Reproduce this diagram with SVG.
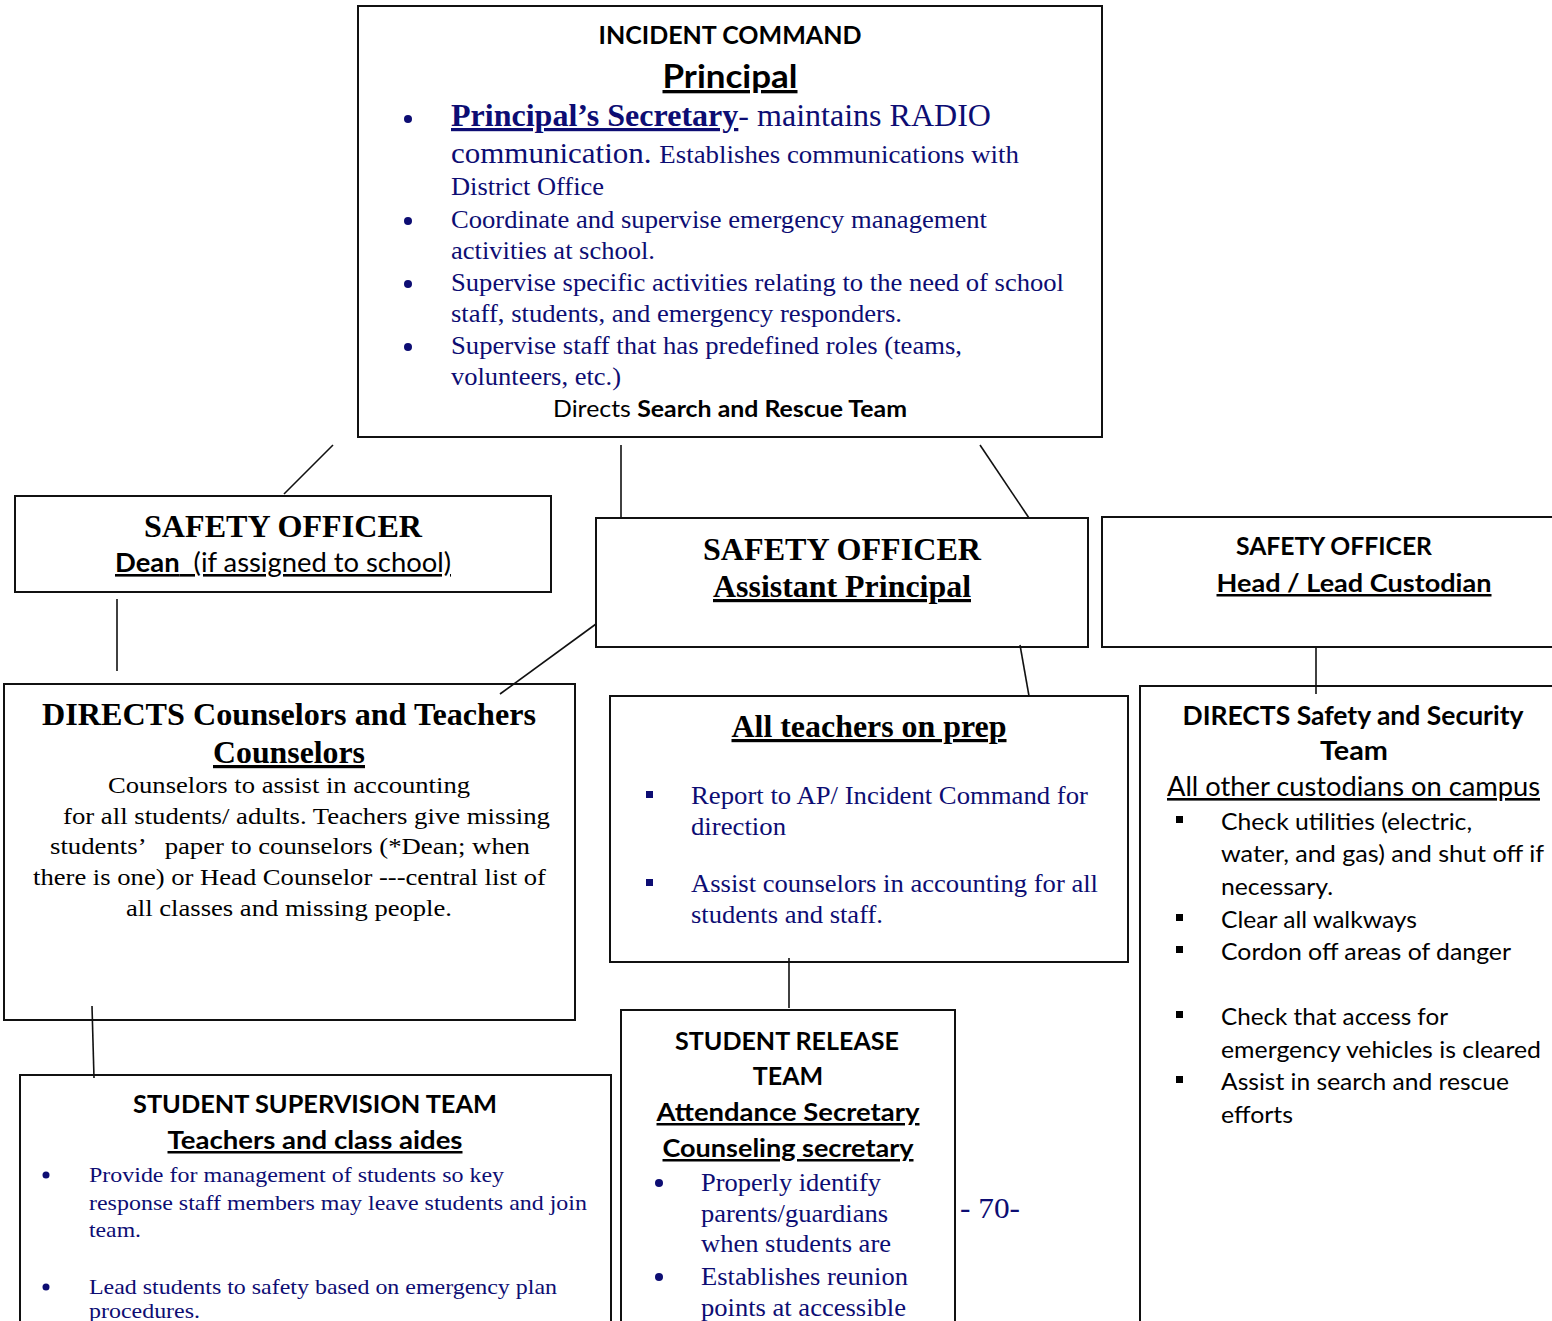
<svg xmlns="http://www.w3.org/2000/svg" width="1552" height="1321" viewBox="0 0 1552 1321">
<style>
.box{fill:#fff;stroke:#111;stroke-width:2}
.con line{stroke:#111;stroke-width:1.6}
.ss{font-family:Lato,"Liberation Sans",sans-serif}
.sf{font-family:"Liberation Serif","Times New Roman",serif}
.b{font-weight:bold}
.u{text-decoration:underline}
.c{text-anchor:middle}
.k{fill:#000}
.n{fill:#0d0d73}
text{white-space:pre}
</style>
<rect width="1552" height="1321" fill="#fff"/>
<g id="incident-command">
<rect class="box" x="358" y="6" width="744" height="431"/>
<text class="ss b c k" x="730" y="44" font-size="25">INCIDENT COMMAND</text>
<text class="ss b c u k" x="730" y="88" font-size="33" textLength="135" lengthAdjust="spacingAndGlyphs">Principal</text>
<g class="sf n">
<circle cx="408" cy="119" r="4" fill="#0d0d73"/>
<text x="451" y="126" font-size="32" textLength="540" lengthAdjust="spacingAndGlyphs"><tspan class="b u">Principal’s Secretary</tspan>- maintains RADIO</text>
<text x="451" y="163" font-size="30" textLength="568" lengthAdjust="spacingAndGlyphs">communication. <tspan font-size="26">Establishes communications with</tspan></text>
<text x="451" y="195" font-size="26" textLength="153" lengthAdjust="spacingAndGlyphs">District Office</text>
<circle cx="408" cy="221" r="4" fill="#0d0d73"/>
<text x="451" y="228" font-size="26" textLength="536" lengthAdjust="spacingAndGlyphs">Coordinate and supervise emergency management</text>
<text x="451" y="259" font-size="26" textLength="204" lengthAdjust="spacingAndGlyphs">activities at school.</text>
<circle cx="408" cy="284" r="4" fill="#0d0d73"/>
<text x="451" y="291" font-size="26" textLength="613" lengthAdjust="spacingAndGlyphs">Supervise specific activities relating to the need of school</text>
<text x="451" y="322" font-size="26" textLength="451" lengthAdjust="spacingAndGlyphs">staff, students, and emergency responders.</text>
<circle cx="408" cy="347" r="4" fill="#0d0d73"/>
<text x="451" y="354" font-size="26" textLength="511" lengthAdjust="spacingAndGlyphs">Supervise staff that has predefined roles (teams,</text>
<text x="451" y="385" font-size="26" textLength="170" lengthAdjust="spacingAndGlyphs">volunteers, etc.)</text>
</g>
<text class="ss c k" x="730" y="417" font-size="23" textLength="354" lengthAdjust="spacingAndGlyphs">Directs <tspan class="b">Search and Rescue Team</tspan></text>
</g>
<g id="safety-dean">
<rect class="box" x="15" y="496" width="536" height="96"/>
<text class="sf b c k" x="283" y="537" font-size="32" textLength="278" lengthAdjust="spacingAndGlyphs">SAFETY OFFICER</text>
<text class="ss c u k" x="283" y="572" font-size="26" textLength="336" lengthAdjust="spacingAndGlyphs"><tspan class="b">Dean</tspan>  (if assigned to school)</text>
</g>
<g id="safety-ap">
<rect class="box" x="596" y="518" width="492" height="129"/>
<text class="sf b c k" x="842" y="560" font-size="32" textLength="278" lengthAdjust="spacingAndGlyphs">SAFETY OFFICER</text>
<text class="sf b c u k" x="842" y="597" font-size="32" textLength="258" lengthAdjust="spacingAndGlyphs">Assistant Principal</text>
</g>
<g id="safety-custodian">
<rect class="box" x="1102" y="517" width="460" height="130"/>
<text class="ss b c k" x="1334" y="555" font-size="25" textLength="196" lengthAdjust="spacingAndGlyphs">SAFETY OFFICER</text>
<text class="ss b c u k" x="1354" y="592" font-size="25" textLength="275" lengthAdjust="spacingAndGlyphs">Head / Lead Custodian</text>
</g>
<g id="counselors">
<rect class="box" x="4" y="684" width="571" height="336"/>
<text class="sf b c k" x="289" y="725" font-size="32" textLength="494" lengthAdjust="spacingAndGlyphs">DIRECTS Counselors and Teachers</text>
<text class="sf b c u k" x="289" y="763" font-size="32" textLength="152" lengthAdjust="spacingAndGlyphs">Counselors</text>
<g class="sf k" font-size="24">
<text x="108" y="793" textLength="362" lengthAdjust="spacingAndGlyphs">Counselors to assist in accounting</text>
<text x="63" y="824" textLength="487" lengthAdjust="spacingAndGlyphs">for all students/ adults. Teachers give missing</text>
<text x="50" y="854" textLength="480" lengthAdjust="spacingAndGlyphs">students’   paper to counselors (*Dean; when</text>
<text x="33" y="885" textLength="513" lengthAdjust="spacingAndGlyphs">there is one) or Head Counselor ---central list of</text>
<text x="126" y="916" textLength="326" lengthAdjust="spacingAndGlyphs">all classes and missing people.</text>
</g>
</g>
<g id="teachers-prep">
<rect class="box" x="610" y="696" width="518" height="266"/>
<text class="sf b c u k" x="869" y="737" font-size="32" textLength="275" lengthAdjust="spacingAndGlyphs">All teachers on prep</text>
<g class="sf n" font-size="25">
<rect x="646" y="791" width="7" height="7" fill="#0d0d73"/>
<text x="691" y="804" textLength="397" lengthAdjust="spacingAndGlyphs">Report to AP/ Incident Command for</text>
<text x="691" y="835" textLength="95" lengthAdjust="spacingAndGlyphs">direction</text>
<rect x="646" y="879" width="7" height="7" fill="#0d0d73"/>
<text x="691" y="892" textLength="407" lengthAdjust="spacingAndGlyphs">Assist counselors in accounting for all</text>
<text x="691" y="923" textLength="192" lengthAdjust="spacingAndGlyphs">students and staff.</text>
</g>
</g>
<g id="safety-security">
<rect class="box" x="1140" y="686" width="430" height="660"/>
<text class="ss b c k" x="1353" y="725" font-size="26" textLength="341" lengthAdjust="spacingAndGlyphs">DIRECTS Safety and Security</text>
<text class="ss b c k" x="1354" y="760" font-size="26" textLength="68" lengthAdjust="spacingAndGlyphs">Team</text>
<text class="ss u k" x="1167" y="796" font-size="26" textLength="373" lengthAdjust="spacingAndGlyphs">All other custodians on campus</text>
<g class="ss k" font-size="24">
<rect x="1176" y="816" width="7" height="7"/>
<text x="1221" y="830" textLength="251" lengthAdjust="spacingAndGlyphs">Check utilities (electric,</text>
<text x="1221" y="862" textLength="323" lengthAdjust="spacingAndGlyphs">water, and gas) and shut off if</text>
<text x="1221" y="895" textLength="112" lengthAdjust="spacingAndGlyphs">necessary.</text>
<rect x="1176" y="914" width="7" height="7"/>
<text x="1221" y="928" textLength="196" lengthAdjust="spacingAndGlyphs">Clear all walkways</text>
<rect x="1176" y="946" width="7" height="7"/>
<text x="1221" y="960" textLength="290" lengthAdjust="spacingAndGlyphs">Cordon off areas of danger</text>
<rect x="1176" y="1011" width="7" height="7"/>
<text x="1221" y="1025" textLength="227" lengthAdjust="spacingAndGlyphs">Check that access for</text>
<text x="1221" y="1058" textLength="320" lengthAdjust="spacingAndGlyphs">emergency vehicles is cleared</text>
<rect x="1176" y="1076" width="7" height="7"/>
<text x="1221" y="1090" textLength="288" lengthAdjust="spacingAndGlyphs">Assist in search and rescue</text>
<text x="1221" y="1123" textLength="72" lengthAdjust="spacingAndGlyphs">efforts</text>
</g>
</g>
<g id="student-supervision">
<rect class="box" x="20" y="1075" width="591" height="280"/>
<text class="ss b c k" x="315" y="1113" font-size="25" textLength="364" lengthAdjust="spacingAndGlyphs">STUDENT SUPERVISION TEAM</text>
<text class="ss b c u k" x="315" y="1149" font-size="25" textLength="295" lengthAdjust="spacingAndGlyphs">Teachers and class aides</text>
<g class="sf n" font-size="22">
<circle cx="46" cy="1175" r="3.5" fill="#0d0d73"/>
<text x="89" y="1182" textLength="415" lengthAdjust="spacingAndGlyphs">Provide for management of students so key</text>
<text x="89" y="1210" textLength="498" lengthAdjust="spacingAndGlyphs">response staff members may leave students and join</text>
<text x="89" y="1237" textLength="52" lengthAdjust="spacingAndGlyphs">team.</text>
<circle cx="46" cy="1287" r="3.5" fill="#0d0d73"/>
<text x="89" y="1294" textLength="468" lengthAdjust="spacingAndGlyphs">Lead students to safety based on emergency plan</text>
<text x="89" y="1318" textLength="111" lengthAdjust="spacingAndGlyphs">procedures.</text>
</g>
</g>
<g id="student-release">
<rect class="box" x="621" y="1010" width="334" height="340"/>
<text class="ss b c k" x="787" y="1050" font-size="25" textLength="224" lengthAdjust="spacingAndGlyphs">STUDENT RELEASE</text>
<text class="ss b c k" x="788" y="1085" font-size="25">TEAM</text>
<text class="ss b c u k" x="788" y="1121" font-size="25" textLength="263" lengthAdjust="spacingAndGlyphs">Attendance Secretary</text>
<text class="ss b c u k" x="788" y="1157" font-size="25" textLength="251" lengthAdjust="spacingAndGlyphs">Counseling secretary</text>
<g class="sf n" font-size="25">
<circle cx="659" cy="1183" r="4" fill="#0d0d73"/>
<text x="701" y="1191" textLength="180" lengthAdjust="spacingAndGlyphs">Properly identify</text>
<text x="701" y="1222" textLength="187" lengthAdjust="spacingAndGlyphs">parents/guardians</text>
<text x="701" y="1252" textLength="190" lengthAdjust="spacingAndGlyphs">when students are</text>
<circle cx="659" cy="1277" r="4" fill="#0d0d73"/>
<text x="701" y="1285" textLength="207" lengthAdjust="spacingAndGlyphs">Establishes reunion</text>
<text x="701" y="1316" textLength="205" lengthAdjust="spacingAndGlyphs">points at accessible</text>
</g>
</g>
<text class="sf n" x="960" y="1218" font-size="30" textLength="60" lengthAdjust="spacingAndGlyphs">- 70-</text>
<g class="con">
<line x1="333" y1="445" x2="284" y2="494"/>
<line x1="621" y1="445" x2="621" y2="518"/>
<line x1="980" y1="445" x2="1029" y2="518"/>
<line x1="117" y1="599" x2="117" y2="671"/>
<line x1="596" y1="624" x2="500" y2="694"/>
<line x1="1020" y1="645" x2="1029" y2="696"/>
<line x1="1316" y1="647" x2="1316" y2="694"/>
<line x1="789" y1="958" x2="789" y2="1008"/>
<line x1="92" y1="1006" x2="94" y2="1078"/>
</g>
</svg>
